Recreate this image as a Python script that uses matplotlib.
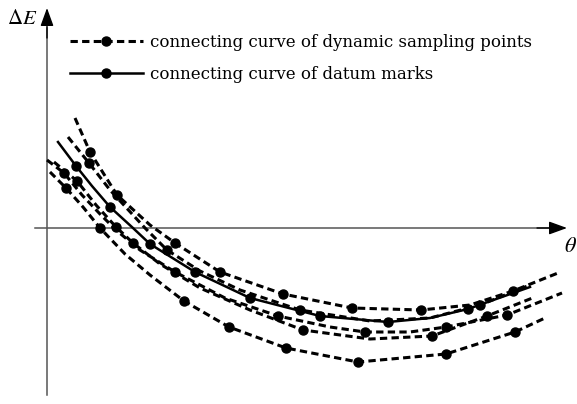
import matplotlib
matplotlib.use("Agg")
import matplotlib.pyplot as plt
from matplotlib.lines import Line2D

# ------------------------------------------------------------------------------
# Data (theta, delta E in arbitrary units)

# dynamic sampling point curves (dashed)
t1_theta = [2.8, 4.3, 7.0, 10.3, 12.8, 17.3, 23.6, 30.5, 37.4, 42.3, 46.6, 51.1]
t1_de = [11.0, 7.6, 3.3, 0.3, -1.5, -4.4, -6.6, -8.0, -8.2, -7.7, -6.3, -4.5]
t1_marks = [1, 2, 4, 5, 6, 7, 8, 10]

t2_theta = [2.1, 4.2, 6.3, 9.8, 12.0, 15.3, 19.3, 25.3, 32.3, 38.3, 43.3, 48.3]
t2_de = [9.1, 6.5, 3.8, 0.0, -2.2, -4.3, -6.2, -8.2, -9.3, -9.0, -7.7, -5.7]
t2_marks = [1, 4, 7, 10]

d3_theta = [0.0, 1.7, 3.5, 5.3, 6.9, 9.3, 12.8, 17.8, 23.1, 28.3, 31.8, 36.3, 39.9, 46.0, 51.5]
d3_de = [6.8, 5.5, 3.3, 1.4, -0.2, -2.2, -4.4, -7.0, -8.8, -9.9, -10.4, -10.4, -9.9, -8.7, -6.5]
d3_marks = [1, 6, 8, 10, 12, 13]

d4_theta = [0.7, 3.0, 4.9, 6.9, 8.6, 11.3, 15.3, 20.3, 25.6, 32.3, 38.5, 44.0, 48.8]
d4_de = [6.6, 4.7, 2.3, 0.1, -1.5, -3.6, -6.0, -8.2, -10.2, -11.1, -10.8, -8.8, -6.9]
d4_marks = [1, 3, 4, 8, 10, 11]

b_theta = [0.3, 1.9, 3.6, 5.3, 7.8, 10.3, 13.7, 18.2, 23.9, 31.1, 39.9, 46.8, 49.8]
b_de = [5.6, 4.0, 2.1, 0.0, -2.6, -4.7, -7.3, -9.9, -12.0, -13.4, -12.6, -10.4, -9.0]
b_marks = [1, 3, 6, 7, 8, 9, 10, 11]

# datum mark curve (solid)
datum_theta = [1.1, 2.9, 4.5, 6.3, 8.6, 10.3, 14.8, 20.3, 27.3, 34.1, 38.3, 42.1, 48.3]
datum_de = [8.6, 6.2, 4.2, 2.1, 0.0, -1.6, -4.4, -7.0, -8.8, -9.4, -9.0, -8.1, -5.9]
datum_marks = [1, 3, 5, 6, 7, 8, 9, 11]

labels = ["connecting curve of dynamic sampling points",
          "connecting curve of datum marks"]

# ------------------------------------------------------------------------------

plt.rcParams["font.family"] = ["DejaVu Serif"]
plt.rcParams["mathtext.fontset"] = "stix"

DASH = (0, (2.4, 1.4))
LW_DASH = 2.2
LW_SOLID = 1.8
MS = 6.5

fig = plt.figure(figsize=(5.77, 4.04), dpi=100)
ax = fig.add_axes([0, 0, 1, 1])
ax.set_xlim(-4.7, 53.0)
ax.set_ylim(-17.6, 22.8)
ax.axis("off")

# axes drawn as grey lines with black arrow heads
ax.plot([0, 0], [-16.7, 20.0], color="#555555", lw=1.1)
ax.plot([-1.2, 50.5], [0, 0], color="#555555", lw=1.1)
ax.annotate("", xy=(0, 22.0), xytext=(0, 19.0),
            arrowprops=dict(arrowstyle="-|>,head_length=1.1,head_width=0.4",
                            color="black", lw=1.0, shrinkA=0, shrinkB=0))
ax.annotate("", xy=(52.0, 0), xytext=(49.0, 0),
            arrowprops=dict(arrowstyle="-|>,head_length=1.1,head_width=0.4",
                            color="black", lw=1.0, shrinkA=0, shrinkB=0))
ax.text(-2.5, 21.0, r"$\Delta E$", fontsize=15, ha="center", va="center")
ax.text(52.3, -1.8, r"$\theta$", fontsize=16, ha="center", va="center")

dashed = [(t1_theta, t1_de, t1_marks), (t2_theta, t2_de, t2_marks),
          (d3_theta, d3_de, d3_marks), (d4_theta, d4_de, d4_marks),
          (b_theta, b_de, b_marks)]
for xs, ys, mk in dashed:
    ax.plot(xs, ys, color="black", linestyle=DASH, lw=LW_DASH,
            marker="o", ms=MS, markevery=mk)

ax.plot(datum_theta, datum_de, color="black", lw=LW_SOLID,
        marker="o", ms=MS, markevery=datum_marks)

handles = [
    Line2D([], [], color="black", linestyle=DASH, lw=LW_DASH, marker="o", ms=MS),
    Line2D([], [], color="black", lw=LW_SOLID, marker="o", ms=MS),
]
ax.legend(handles, labels, loc="upper left", bbox_to_anchor=(0.121, 0.916),
          frameon=False, fontsize=12, numpoints=1, borderpad=0, borderaxespad=0,
          handlelength=4.4, handletextpad=0.42, labelspacing=0.9)

fig.savefig("out.png", dpi=100, facecolor="white")
